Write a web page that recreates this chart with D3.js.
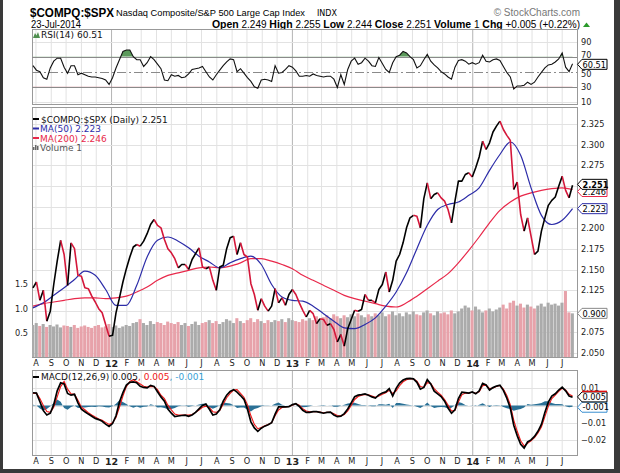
<!DOCTYPE html>
<html><head><meta charset="utf-8">
<script src="https://cdn.jsdelivr.net/npm/d3@7"></script>
<style>body{margin:0;background:#fff}svg{display:block}</style>
</head><body><svg id="c" width="620" height="473"></svg>
<script>
// ---------- DATA (weekly samples, starting 2011-07-27) ----------
const startDate = "2011-07-27";
const price = [2.128,2.135,2.113,2.125,2.088,2.100,2.132,2.160,2.185,2.168,
 2.131,2.182,2.175,2.143,2.142,2.128,2.127,2.118,2.111,2.103,
 2.098,2.084,2.070,2.071,2.098,2.116,2.135,2.151,2.165,2.177,
 2.180,2.178,2.184,2.193,2.204,2.210,2.203,2.200,2.186,2.175,
 2.170,2.163,2.152,2.156,2.156,2.150,2.162,2.169,2.176,2.153,
 2.151,2.153,2.137,2.125,2.153,2.155,2.175,2.188,2.190,2.168,
 2.182,2.168,2.165,2.133,2.120,2.101,2.115,2.106,2.100,2.106,
 2.127,2.110,2.116,2.107,2.120,2.126,2.120,2.110,2.101,2.093,
 2.101,2.097,2.085,2.091,2.090,2.083,2.085,2.078,2.063,2.072,
 2.058,2.079,2.090,2.101,2.100,2.102,2.120,2.113,2.113,2.110,
 2.126,2.132,2.147,2.123,2.137,2.160,2.168,2.182,2.200,2.212,
 2.215,2.214,2.200,2.235,2.254,2.235,2.240,2.242,2.236,2.232,
 2.222,2.206,2.232,2.256,2.256,2.264,2.266,2.261,2.272,2.285,
 2.304,2.294,2.302,2.315,2.322,2.328,2.318,2.311,2.305,2.246,
 2.255,2.216,2.196,2.212,2.190,2.168,2.172,2.196,2.212,2.227,
 2.233,2.237,2.250,2.262,2.245,2.236,2.251];
// moving averages, one value every 3 weeks
const ma50 = [2.104,2.110,2.119,2.128,2.138,2.148,2.143,2.126,2.107,2.107,
 2.131,2.165,2.185,2.189,2.184,2.176,2.166,2.159,2.152,2.158,
 2.163,2.166,2.156,2.132,2.117,2.113,2.112,2.106,2.097,2.088,
 2.080,2.079,2.084,2.092,2.106,2.123,2.146,2.175,2.203,2.222,
 2.228,2.231,2.239,2.248,2.269,2.288,2.303,2.287,2.248,2.215,
 2.204,2.209,2.223];
const ma200 = [2.106,2.109,2.111,2.113,2.115,2.116,2.116,2.115,2.116,2.118,
 2.123,2.129,2.137,2.143,2.146,2.149,2.152,2.153,2.152,2.154,
 2.158,2.163,2.163,2.160,2.156,2.151,2.143,2.137,2.131,2.125,
 2.119,2.115,2.112,2.109,2.106,2.105,2.110,2.118,2.127,2.136,
 2.145,2.158,2.173,2.189,2.206,2.221,2.231,2.238,2.242,2.245,
 2.247,2.248,2.246];
const volume = [0.66,0.70,0.64,0.68,0.62,0.66,0.63,0.67,0.61,0.65,
 0.64,0.62,0.66,0.60,0.63,0.65,0.62,0.60,0.64,0.66,
 0.61,0.63,0.68,0.62,0.65,0.60,0.63,0.66,0.64,0.70,
 0.72,0.78,0.70,0.66,0.74,0.68,0.72,0.70,0.66,0.73,
 0.70,0.68,0.72,0.66,0.70,0.64,0.68,0.73,0.66,0.70,
 0.72,0.76,0.70,0.74,0.68,0.72,0.78,0.75,0.70,0.80,
 0.74,0.70,0.76,0.80,0.72,0.78,0.74,0.70,0.76,0.72,
 0.76,0.74,0.78,0.72,0.80,0.76,0.74,0.72,0.78,0.75,
 0.80,0.76,0.84,0.78,0.82,0.86,0.80,0.88,0.84,0.80,
 0.86,0.82,0.88,0.84,0.90,0.86,0.82,0.88,0.84,0.90,
 0.86,0.92,0.84,0.88,0.94,0.86,0.90,0.84,0.92,0.88,
 0.94,0.88,0.86,0.92,0.96,0.90,0.86,0.94,0.90,0.92,
 0.88,0.96,0.90,0.94,1.00,1.06,1.02,0.96,1.04,0.98,
 0.92,0.96,1.00,0.94,0.98,1.02,1.08,1.00,1.12,1.16,
 1.06,1.10,1.02,1.08,1.04,1.00,1.06,1.10,1.04,1.12,
 1.08,1.10,1.06,1.12,1.36,0.92,0.90];
const rsi = [58,52,50,42,40,55,64,68,68,56,
 48,58,58,46,48,46,44,43,43,42,
 41,39,33,42,55,66,77,79,79,70,
 66,66,57,62,70,66,60,54,39,38,
 46,44,45,42,43,47,53,54,55,57,
 50,43,39,46,52,58,63,67,66,50,
 54,48,42,37,30,28,39,40,39,37,
 58,48,49,53,58,56,51,44,44,45,
 44,47,45,44,43,44,44,40,29,46,
 33,53,64,68,60,62,68,64,58,57,
 69,61,53,49,62,70,72,77,75,70,
 66,55,58,66,73,64,59,55,50,47,
 43,40,56,65,66,64,60,62,60,62,
 72,64,63,66,67,65,57,49,43,27,
 31,31,32,36,33,36,43,49,55,59,
 60,63,67,75,56,50,60.51];
const macd = [0.0074,0.0072,0.0022,-0.0030,-0.0055,-0.0045,0.0005,0.0085,0.0132,0.0125,
 0.0070,0.0060,0.0065,0.0015,-0.0022,-0.0036,-0.0050,-0.0062,-0.0075,-0.0082,
 -0.0092,-0.0108,-0.0122,-0.0105,-0.0060,0.0020,0.0075,0.0119,0.0135,0.0137,
 0.0132,0.0112,0.0105,0.0102,0.0117,0.0111,0.0080,0.0050,0.0025,-0.0020,
 -0.0045,-0.0064,-0.0061,-0.0058,-0.0056,-0.0063,-0.0055,-0.0040,-0.0020,0.0000,
 0.0008,-0.0022,-0.0055,-0.0050,-0.0025,0.0025,0.0060,0.0082,0.0092,0.0078,
 0.0058,0.0036,-0.0020,-0.0095,-0.0130,-0.0150,-0.0132,-0.0120,-0.0112,-0.0100,
 -0.0050,-0.0008,-0.0008,-0.0008,-0.0007,0.0005,0.0010,-0.0005,-0.0028,-0.0040,
 -0.0040,-0.0036,-0.0036,-0.0040,-0.0045,-0.0040,-0.0038,-0.0055,-0.0065,-0.0062,
 -0.0047,-0.0020,0.0015,0.0051,0.0060,0.0063,0.0067,0.0060,0.0050,0.0043,
 0.0062,0.0073,0.0079,0.0098,0.0055,0.0100,0.0130,0.0148,0.0156,0.0158,
 0.0155,0.0135,0.0095,0.0105,0.0150,0.0125,0.0083,0.0068,0.0052,0.0025,
 -0.0015,-0.0045,-0.0025,0.0040,0.0077,0.0075,0.0072,0.0079,0.0068,0.0085,
 0.0128,0.0119,0.0090,0.0104,0.0113,0.0118,0.0088,0.0042,-0.0015,-0.0115,
 -0.0175,-0.0225,-0.0247,-0.0212,-0.0200,-0.0180,-0.0150,-0.0110,-0.0040,0.0020,
 0.0055,0.0068,0.0090,0.0107,0.0085,0.0055,0.0048];
const signal = [0.0070,0.0072,0.0040,0.0000,-0.0035,-0.0040,-0.0010,0.0050,0.0110,0.0140,
 0.0095,0.0068,0.0065,0.0030,-0.0010,-0.0025,-0.0042,-0.0055,-0.0067,-0.0078,
 -0.0086,-0.0098,-0.0110,-0.0100,-0.0070,-0.0010,0.0055,0.0110,0.0140,0.0150,
 0.0138,0.0125,0.0112,0.0108,0.0110,0.0110,0.0092,0.0060,0.0040,0.0002,
 -0.0025,-0.0050,-0.0056,-0.0056,-0.0055,-0.0056,-0.0052,-0.0040,-0.0026,-0.0010,
 -0.0004,-0.0012,-0.0036,-0.0040,-0.0028,0.0008,0.0045,0.0070,0.0090,0.0092,
 0.0070,0.0048,0.0005,-0.0060,-0.0110,-0.0135,-0.0128,-0.0118,-0.0110,-0.0100,
 -0.0060,-0.0026,-0.0012,-0.0008,-0.0005,0.0002,0.0010,0.0002,-0.0018,-0.0032,
 -0.0036,-0.0036,-0.0036,-0.0038,-0.0042,-0.0040,-0.0039,-0.0048,-0.0058,-0.0060,
 -0.0052,-0.0032,0.0000,0.0035,0.0052,0.0060,0.0064,0.0062,0.0055,0.0048,
 0.0055,0.0066,0.0074,0.0088,0.0070,0.0085,0.0115,0.0138,0.0150,0.0155,
 0.0155,0.0142,0.0110,0.0106,0.0133,0.0128,0.0098,0.0078,0.0060,0.0035,
 0.0002,-0.0032,-0.0028,0.0020,0.0062,0.0072,0.0072,0.0077,0.0071,0.0080,
 0.0115,0.0118,0.0098,0.0102,0.0110,0.0116,0.0096,0.0058,0.0005,-0.0085,
 -0.0150,-0.0205,-0.0235,-0.0220,-0.0205,-0.0187,-0.0160,-0.0125,-0.0065,-0.0005,
 0.0040,0.0060,0.0082,0.0100,0.0090,0.0065,0.0055];
const monthLabels = ["A","S","O","N","D","12","F","M","A","M","J","J","A","S","O","N","D","13",
 "F","M","A","M","J","J","A","S","O","N","D","14","F","M","A","M","J","J"];
const priceGrid = [2.050,2.075,2.100,2.125,2.150,2.175,2.200,2.225,2.250,2.275,2.300,2.325];
const priceTicks = [2.050,2.075,2.125,2.150,2.175,2.200,2.275,2.300,2.325];
const volTicks = [0.5,1.0,1.5];
const rsiTicks = [10,30,50,70,90];
const macdTicks = [0.01,-0.01,-0.02];
const macdGrid = [0.01,0,-0.01,-0.02];

// ---------- LAYOUT ----------
const svg = d3.select("#c");
const SANS = "DejaVu Sans, Verdana, sans-serif", ARIAL = "Liberation Sans, Arial, sans-serif";
const L = 32, R = 577;
const rsiTop = 29, rsiBot = 104, mainTop = 107, mainBot = 357, macdTop = 370, macdBot = 455;
const parse = d3.timeParse("%Y-%m-%d");
const t0 = parse(startDate);
const dates = price.map((_, i) => d3.timeDay.offset(t0, i * 7));
const maDates = ma50.map((_, j) => dates[j * 3]);
const monthDates = d3.timeMonth.range(parse("2011-08-01"), parse("2014-07-02"));

const x = d3.scaleTime().domain([parse("2011-07-25"), parse("2014-08-01")]).range([L, R]);
const y = d3.scaleLinear().domain([2.045, 2.345]).range([mainBot, mainTop]);
const yv = d3.scaleLinear().domain([0, 1]).range([mainBot, mainBot - 48.5]);
const yr = d3.scaleLinear().domain([0, 100]).range([109.2, 34.2]);
const ym = d3.scaleLinear().domain([0, 0.01]).range([405.5, 388.3]);

function T(sel, fam) { return sel.style("font-family", fam || SANS); }

// frame
svg.append("rect").attr("width", 620).attr("height", 473).attr("fill", "#3a3a3a");
svg.append("rect").attr("x", 3).attr("y", 0).attr("width", 611).attr("height", 469).attr("fill", "#fff");

const gridC = "#e2e2e2", yearC = "#b4b4b4";
function vgrid(top, bot) {
  svg.append("g").selectAll("line").data(monthDates).join("line")
    .attr("x1", d => x(d) + 0.5).attr("x2", d => x(d) + 0.5)
    .attr("y1", top).attr("y2", bot)
    .attr("stroke", d => d.getMonth() === 0 ? yearC : gridC).attr("stroke-width", 1);
}
function hgrid(vals, sc, col) {
  svg.append("g").selectAll("line").data(vals).join("line")
    .attr("x1", L).attr("x2", R).attr("y1", d => Math.round(sc(d)) + 0.5).attr("y2", d => Math.round(sc(d)) + 0.5)
    .attr("stroke", col || gridC);
}
function clipRect(id, top, bot) {
  svg.append("clipPath").attr("id", id).append("rect").attr("x", L).attr("y", top).attr("width", R - L).attr("height", bot - top);
  return "url(#" + id + ")";
}
function tag(yy, label, stroke, bold, tcol) {
  const g = svg.append("g");
  g.append("path").attr("d", `M${R + 0.5},${yy} L${R + 5},${yy - 5} L${R + 30},${yy - 5} L${R + 30},${yy + 5} L${R + 5},${yy + 5} Z`)
    .attr("fill", "#fff").attr("stroke", stroke).attr("stroke-width", 1);
  T(g.append("text")).attr("x", R + 5.5).attr("y", yy + 3.2).attr("font-size", 8.2).attr("font-weight", bold ? "bold" : "normal")
    .attr("fill", tcol || "#000").text(label);
}
function axisStyle(g, size) {
  g.select(".domain").remove();
  g.selectAll("text").attr("font-size", size || 8.2).attr("fill", "#222").style("font-family", SANS);
}

// ---------- HEADER ----------
T(svg.append("text"), ARIAL).attr("x", 30).attr("y", 17).attr("font-weight", "bold").attr("font-size", 12.5)
  .attr("textLength", 84).attr("lengthAdjust", "spacingAndGlyphs").text("$COMPQ:$SPX");
T(svg.append("text"), ARIAL).attr("x", 116).attr("y", 16).attr("font-size", 9.5)
  .attr("textLength", 189).attr("lengthAdjust", "spacingAndGlyphs").text("Nasdaq Composite/S&P 500 Large Cap Index");
T(svg.append("text")).attr("x", 317).attr("y", 16).attr("font-size", 8).text("INDX");
T(svg.append("text"), ARIAL).attr("x", 580).attr("y", 16).attr("text-anchor", "end").attr("font-size", 10).attr("fill", "#777").text("© StockCharts.com");
T(svg.append("text"), ARIAL).attr("x", 31).attr("y", 28).attr("font-size", 10)
  .attr("textLength", 50).attr("lengthAdjust", "spacingAndGlyphs").text("23-Jul-2014");
const hdr = T(svg.append("text"), ARIAL).attr("x", 580).attr("y", 28).attr("text-anchor", "end").attr("font-size", 10.5);
[["Open", " 2.249 "], ["High", " 2.255 "], ["Low", " 2.244 "], ["Close", " 2.251 "], ["Volume", " 1 "], ["Chg", " +0.005 (+0.22%)"]].forEach(([a, b]) => {
  hdr.append("tspan").attr("font-weight", "bold").text(a);
  hdr.append("tspan").attr("font-size", 10).text(b);
});
svg.append("path").attr("d", "M583,27 L586.5,22.5 L590,27 Z").attr("fill", "#2a9a2a");

// ---------- RSI PANEL ----------
vgrid(rsiTop, rsiBot);
hgrid([90, 10], yr);
svg.append("rect").attr("x", L + 0.5).attr("y", rsiTop + 0.5).attr("width", R - L).attr("height", rsiBot - rsiTop).attr("fill", "none").attr("stroke", "#999");
hgrid([70, 30], yr, "#8a8a8a");
svg.append("line").attr("x1", L).attr("x2", R).attr("y1", Math.round(yr(50)) + 0.5).attr("y2", Math.round(yr(50)) + 0.5)
  .attr("stroke", "#8a8a8a").attr("stroke-dasharray", "9,3,2,3");
const rsiClip = clipRect("rsiclip", rsiTop, rsiBot);
svg.append("clipPath").attr("id", "ob").append("rect").attr("x", L).attr("y", rsiTop).attr("width", R - L).attr("height", yr(70) - rsiTop);
svg.append("clipPath").attr("id", "os").append("rect").attr("x", L).attr("y", yr(30)).attr("width", R - L).attr("height", rsiBot - yr(30));
svg.append("path").datum(rsi).attr("clip-path", "url(#ob)").attr("fill", "#5c9a5c")
  .attr("d", d3.area().x((d, i) => x(dates[i])).y0(yr(70)).y1(d => yr(d)));
svg.append("path").datum(rsi).attr("clip-path", "url(#os)").attr("fill", "#c8646e")
  .attr("d", d3.area().x((d, i) => x(dates[i])).y0(yr(30)).y1(d => yr(d)));
svg.append("path").datum(rsi).attr("clip-path", rsiClip).attr("fill", "none").attr("stroke", "#111").attr("stroke-width", 1.1)
  .attr("d", d3.line().x((d, i) => x(dates[i])).y(d => yr(d)));
svg.append("g").attr("transform", `translate(${R},0)`)
  .call(d3.axisRight(yr).tickValues(rsiTicks).tickSize(0).tickPadding(4).tickFormat(d3.format("d")))
  .call(g => { axisStyle(g); g.selectAll("text").attr("dy", d => d === 70 ? "0.1em" : (d === 50 ? "0.55em" : "0.32em")); });
svg.append("path").attr("d", "M33,38 L35,33 L36.5,35.5 L38,32 L40,38 Z").attr("fill", "#4f8f4f");
T(svg.append("text")).attr("x", 41).attr("y", 37.5).attr("font-size", 9).attr("fill", "#111").text("RSI(14) 60.51");
tag(yr(60.51) + 0.5, "60.51", "#000", false);

// ---------- MAIN PANEL ----------
vgrid(mainTop, mainBot);
hgrid(priceGrid, y);
svg.append("rect").attr("x", L + 0.5).attr("y", mainTop + 0.5).attr("width", R - L).attr("height", mainBot - mainTop).attr("fill", "none").attr("stroke", "#999");
const mainClip = clipRect("mainclip", mainTop, mainBot);
const step = x(dates[1]) - x(dates[0]);
svg.append("g").attr("clip-path", mainClip).selectAll("rect").data(volume).join("rect")
  .attr("x", (d, i) => x(dates[i]) - step / 2).attr("width", step - 0.4)
  .attr("y", d => yv(d)).attr("height", d => yv(0) - yv(d))
  .attr("fill", (d, i) => (i > 0 && price[i] < price[i - 1]) ? "#e7a2aa" : "#ababab");
svg.append("path").datum(ma200).attr("clip-path", mainClip).attr("fill", "none").attr("stroke", "#e8284a").attr("stroke-width", 1.2)
  .attr("d", d3.line().curve(d3.curveMonotoneX).x((d, i) => x(maDates[i])).y(d => y(d)));
svg.append("path").datum(ma50).attr("clip-path", mainClip).attr("fill", "none").attr("stroke", "#2c2ca8").attr("stroke-width", 1.2)
  .attr("d", d3.line().curve(d3.curveMonotoneX).x((d, i) => x(maDates[i])).y(d => y(d)));
const segs = []; let cur = null;
for (let i = 1; i < price.length; i++) {
  const up = price[i] >= price[i - 1];
  if (!cur || cur.up !== up) { cur = { up, idx: [i - 1] }; segs.push(cur); }
  cur.idx.push(i);
}
const pl = d3.line().x(i => x(dates[i])).y(i => y(price[i]));
svg.append("g").attr("clip-path", mainClip).selectAll("path").data(segs).join("path")
  .attr("d", s => pl(s.idx)).attr("fill", "none").attr("stroke", s => s.up ? "#000" : "#d4173a")
  .attr("stroke-width", 1.6).attr("stroke-linejoin", "round");
svg.append("g").attr("transform", `translate(${R},0)`)
  .call(d3.axisRight(y).tickValues(priceTicks).tickSize(0).tickPadding(4).tickFormat(d3.format(".3f")))
  .call(g => axisStyle(g));
svg.append("g").attr("transform", `translate(${L},0)`)
  .call(d3.axisLeft(yv).tickValues(volTicks).tickSize(0).tickPadding(4).tickFormat(d3.format(".1f")))
  .call(g => axisStyle(g));
function monthAxis(yy) {
  svg.append("g").attr("transform", `translate(0,${yy})`)
    .call(d3.axisBottom(x).tickValues(monthDates).tickSize(0).tickPadding(0).tickFormat((d, i) => monthLabels[i]))
    .call(g => {
      axisStyle(g);
      g.selectAll("text").attr("font-weight", d => d.getMonth() === 0 ? "bold" : "normal")
        .attr("font-size", d => d.getMonth() === 0 ? 9.5 : 8.2);
    });
}
monthAxis(360);
tag(yv(0.9), "0.900", "#888", false);
tag(y(2.223), "2.223", "#2c2ca8", false);
tag(y(2.246) + 2, "2.246", "#e8284a", false);
tag(y(2.251) - 1, "2.251", "#000", true);
const lg = svg.append("g");
lg.append("rect").attr("x", 33).attr("y", 118).attr("width", 6).attr("height", 2).attr("fill", "#000");
T(lg.append("text")).attr("font-size", 9).attr("x", 41).attr("y", 122.5).attr("fill", "#111").text("$COMPQ:$SPX (Daily) 2.251");
lg.append("rect").attr("x", 33).attr("y", 127.5).attr("width", 6).attr("height", 2).attr("fill", "#2c2ca8");
T(lg.append("text")).attr("font-size", 9).attr("x", 40).attr("y", 132).attr("fill", "#2c2ca8").text("MA(50) 2.223");
lg.append("rect").attr("x", 33).attr("y", 137).attr("width", 6).attr("height", 2).attr("fill", "#e8284a");
T(lg.append("text")).attr("font-size", 9).attr("x", 40).attr("y", 141.5).attr("fill", "#e8284a").text("MA(200) 2.246");
[[33, 3], [35, 5], [37, 4]].forEach(([bx, bh]) => lg.append("rect").attr("x", bx).attr("y", 150 - bh).attr("width", 1.5).attr("height", bh).attr("fill", "#666"));
T(lg.append("text")).attr("font-size", 9).attr("x", 40).attr("y", 151).attr("fill", "#555").text("Volume 1");

// ---------- MACD PANEL ----------
vgrid(macdTop, macdBot);
hgrid(macdGrid, ym);
svg.append("rect").attr("x", L + 0.5).attr("y", macdTop + 0.5).attr("width", R - L).attr("height", macdBot - macdTop).attr("fill", "none").attr("stroke", "#999");
const macdClip = clipRect("macdclip", macdTop, macdBot);
svg.append("path").datum(macd).attr("clip-path", macdClip).attr("fill", "#2b7196")
  .attr("d", d3.area().x((d, i) => x(dates[i])).y0(ym(0)).y1((d, i) => ym(d - signal[i])));
svg.append("path").datum(signal).attr("clip-path", macdClip).attr("fill", "none").attr("stroke", "#f01818").attr("stroke-width", 1.1)
  .attr("d", d3.line().x((d, i) => x(dates[i])).y(d => ym(d)));
svg.append("path").datum(macd).attr("clip-path", macdClip).attr("fill", "none").attr("stroke", "#000").attr("stroke-width", 1.7)
  .attr("d", d3.line().x((d, i) => x(dates[i])).y(d => ym(d)));
svg.append("g").attr("transform", `translate(${R},0)`)
  .call(d3.axisRight(ym).tickValues(macdTicks).tickSize(0).tickPadding(4).tickFormat(d => d3.format(".2f")(d).replace(/0$/, "")))
  .call(g => axisStyle(g));
monthAxis(458);
svg.append("rect").attr("x", 33).attr("y", 376).attr("width", 6).attr("height", 2).attr("fill", "#000");
const ml = T(svg.append("text")).attr("x", 41).attr("y", 380).attr("font-size", 9);
ml.append("tspan").attr("fill", "#111").text("MACD(12,26,9) 0.005");
ml.append("tspan").attr("fill", "#f01818").text(", 0.005");
ml.append("tspan").attr("fill", "#3a9fd6").text(", -0.001");
tag(ym(-0.001), "-0.001", "#3a8fd0", false);
tag(ym(0.005), "0.005", "#000", false);
svg.append("line").attr("x1", R + 5).attr("x2", R + 30).attr("y1", ym(0.005) - 5.5).attr("y2", ym(0.005) - 5.5).attr("stroke", "#e01010").attr("stroke-width", 1.5);
</script></body></html>
